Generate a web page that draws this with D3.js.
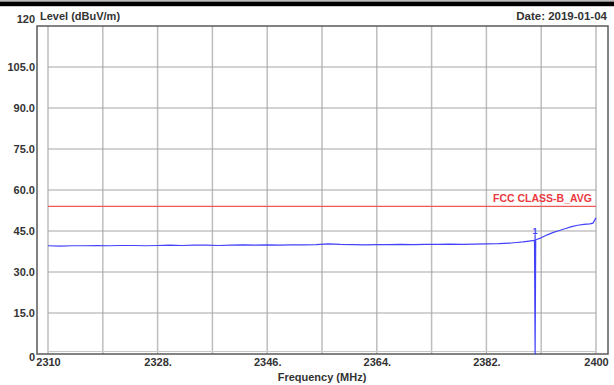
<!DOCTYPE html>
<html><head><meta charset="utf-8">
<script src="https://cdn.jsdelivr.net/npm/d3@7"></script>
<style>
html,body{margin:0;padding:0;background:#fff;}
svg{display:block;}
text{font-family:"Liberation Sans",Arial,sans-serif;}
</style></head>
<body>
<svg id="chart" width="614" height="385"></svg>
<script>
// ---- data ----
const traceFreq = [2310,2312,2314,2316,2318,2320,2322,2324,2326,2328,2330,2332,2334,2336,2338,2340,2342,2344,2346,2348,2350,2352,2354,2356,2358,2360,2362,2364,2366,2368,2370,2372,2374,2376,2378,2380,2382,2384,2386,2387,2388,2389,2389.9,2390,2390.1,2391,2392,2393,2394,2395,2396,2397,2398,2399,2399.5,2400];
const traceLevel = [39.6,39.5,39.6,39.6,39.7,39.6,39.7,39.7,39.6,39.7,39.8,39.7,39.8,39.8,39.7,39.8,39.9,39.8,39.9,39.8,39.9,39.9,40.0,40.3,40.1,40.0,39.9,40.0,40.0,40.1,40.0,40.1,40.1,40.2,40.1,40.2,40.3,40.4,40.6,40.8,41.0,41.3,41.6,0,41.8,42.5,43.6,44.5,45.2,45.9,46.6,47.1,47.4,47.6,47.9,49.8];
const limitFreq = [2310,2400];
const limitLevel = [54,54];
const limitLabel = "FCC CLASS-B_AVG";
const markerFreq = [2390];
const markerLevel = [41.7];
const markerTop = [43.8];
const markerLabel = ["1"];
const xTicks = [2310,2328,2346,2364,2382,2400];
const xGrid = [2310,2319,2328,2337,2346,2355,2364,2373,2382,2391,2400];
const yTicks = [0,15,30,45,60,75,90,105,120];
const yTitle = "Level (dBuV/m)";
const xTitle = "Frequency (MHz)";
const dateText = "Date: 2019-01-04";

// ---- drawing ----
const svg = d3.select("#chart");
const x = d3.scaleLinear().domain([2310,2400]).range([48,596]);
const y = d3.scaleLinear().domain([0,120]).range([354,26]);

// heading rule remnant at top
svg.append("rect").attr("x",0).attr("y",0).attr("width",614).attr("height",2).attr("fill","#bdbdbd");
svg.append("rect").attr("x",0).attr("y",1.7).attr("width",614).attr("height",4.5).attr("fill","#000");

// gridlines
svg.append("g").selectAll("line").data(xGrid).join("line")
  .attr("x1",d=>x(d)).attr("x2",d=>x(d)).attr("y1",y(120)).attr("y2",y(0))
  .attr("stroke","#bdbdbd").attr("stroke-width",1.5);
svg.append("g").selectAll("line").data(yTicks.filter(d=>d>0&&d<120)).join("line")
  .attr("x1",x(2310)).attr("x2",x(2400)).attr("y1",d=>y(d)).attr("y2",d=>y(d))
  .attr("stroke","#a6a6a6").attr("stroke-width",1);
svg.append("line").attr("x1",x(2310)).attr("x2",x(2400)).attr("y1",y(0)-2.5).attr("y2",y(0)-2.5)
  .attr("stroke","#c8c8c8").attr("stroke-width",1);

// outer frame
svg.append("rect").attr("x",37).attr("y",y(120)).attr("width",608-37).attr("height",y(0)-y(120))
  .attr("fill","none").attr("stroke","#5a5a5a").attr("stroke-width",1.5);

// limit line
const line = d3.line().x(d=>x(d[0])).y(d=>y(d[1]));
svg.append("path").datum(limitFreq.map((f,i)=>[f,limitLevel[i]]))
  .attr("d",line).attr("fill","none").attr("stroke","#ee5a5a").attr("stroke-width",1.3);
svg.append("text").attr("x",x(2400)-4).attr("y",y(54)-4).attr("text-anchor","end")
  .attr("font-family","'Open Sans',sans-serif").attr("font-weight","bold").attr("font-size",10.5)
  .attr("fill","#ea3a3f").text(limitLabel);

// trace
svg.append("path").datum(traceFreq.map((f,i)=>[f,traceLevel[i]]))
  .attr("d",line).attr("fill","none").attr("stroke","#4242fa").attr("stroke-width",1.2)
  .attr("stroke-linejoin","round");

// marker
svg.append("g").selectAll("line").data(markerFreq).join("line")
  .attr("x1",d=>x(d)).attr("x2",d=>x(d)).attr("y1",(d,i)=>y(markerLevel[i])).attr("y2",(d,i)=>y(markerTop[i]))
  .attr("stroke","#4242fa").attr("stroke-width",1.2);
svg.append("g").selectAll("text").data(markerFreq).join("text")
  .attr("x",d=>x(d)).attr("y",(d,i)=>y(markerTop[i])-0.5).attr("text-anchor","middle")
  .attr("font-size",9).attr("font-weight","bold").attr("fill","#4242fa").text((d,i)=>markerLabel[i]);

// axes
const yAxis = d3.axisLeft(y).tickValues(yTicks).tickSize(0).tickPadding(0)
  .tickFormat(d=> (d===0||d===120) ? String(d) : d3.format(".1f")(d));
const gy = svg.append("g").attr("transform","translate(35,0)").call(yAxis);
gy.select(".domain").remove();
gy.selectAll("text").attr("font-size",11).attr("font-weight","bold").attr("fill","#333")
  .attr("font-family","'Liberation Sans',Arial,sans-serif");
gy.selectAll(".tick").filter(d=>d===120).select("text").attr("dy","-0.3em");
gy.selectAll(".tick").filter(d=>d===0).select("text").attr("dy","0.55em");

const xAxis = d3.axisBottom(x).tickValues(xTicks).tickSize(0).tickPadding(0)
  .tickFormat(d=> (d===2310||d===2400) ? String(d) : d + ".");
const gx = svg.append("g").attr("transform","translate(0,358)").call(xAxis);
gx.select(".domain").remove();
gx.selectAll("text").attr("font-size",11).attr("font-weight","bold").attr("fill","#333")
  .attr("font-family","'Liberation Sans',Arial,sans-serif");

// titles
svg.append("text").attr("x",40).attr("y",20).attr("font-size",11).attr("font-weight","bold").attr("fill","#333").text(yTitle);
svg.append("text").attr("x",607).attr("y",20).attr("text-anchor","end").attr("font-size",11.5).attr("font-weight","bold").attr("fill","#333").text(dateText);
svg.append("text").attr("x",322).attr("y",381).attr("text-anchor","middle").attr("font-size",11).attr("font-weight","bold").attr("fill","#333").text(xTitle);
</script>
</body></html>
